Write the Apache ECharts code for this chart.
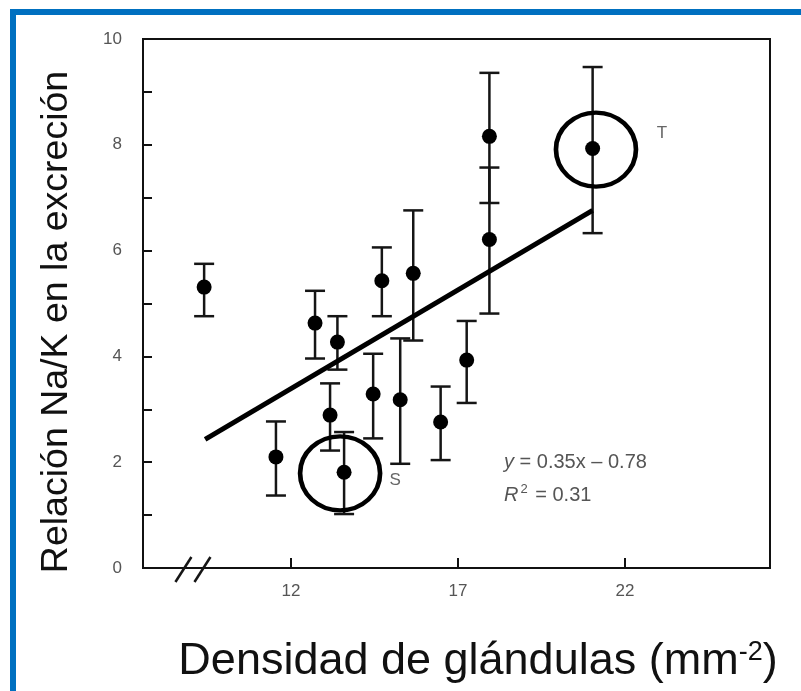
<!DOCTYPE html>
<html>
<head>
<meta charset="utf-8">
<script src="https://cdn.jsdelivr.net/npm/echarts@6/dist/echarts.min.js"></script>
<style>
html,body{margin:0;padding:0;background:#fff;}
#chart{width:801px;height:691px;}
</style>
</head>
<body>
<div id="chart"></div>
<script>
// ---- data ----
const xVals = [9.40, 11.55, 12.72, 13.17, 13.39, 13.59, 14.46, 14.72, 15.27, 15.66, 16.48, 17.26, 17.94, 17.94, 21.03];
const yVals = [5.31, 2.10, 4.63, 2.89, 4.27, 1.81, 3.29, 5.43, 3.18, 5.57, 2.76, 3.93, 8.16, 6.21, 7.93];
const yLow  = [4.76, 1.37, 3.96, 2.22, 3.75, 1.02, 2.45, 4.76, 1.97, 4.30, 2.04, 3.12, 6.90, 4.81, 6.33];
const yHigh = [5.75, 2.77, 5.24, 3.49, 4.76, 2.57, 4.05, 6.06, 4.34, 6.76, 3.43, 4.67, 9.36, 7.57, 9.47];
const fitX = [9.43, 21.03];
const fitY = [2.43, 6.76];
const circleNames = ['S', 'T'];
const circleX = [13.47, 21.13];
const circleY = [1.79, 7.91];
const xTicks = [12, 17, 22];
const yTickLabels = [0, 2, 4, 6, 8, 10];
const breakX = [8.78, 9.35];
const equationRest = ' = 0.35x \u2013 0.78';
const r2Text = '0.31';

const chart = echarts.init(document.getElementById('chart'), null, {renderer: 'canvas'});

const points = xVals.map((x, i) => [x, yVals[i]]);
const bars = xVals.map((x, i) => [x, yLow[i], yHigh[i]]);
const fitLine = fitX.map((x, i) => [x, fitY[i]]);
const labelOffsets = {S: [55, 7], T: [66, -16]};
const circles = circleNames.map((n, i) => ({
  name: n, value: [circleX[i], circleY[i]],
  label: {offset: labelOffsets[n]}
}));

const ink = '#111';

chart.setOption({
  animation: false,
  backgroundColor: '#fff',
  grid: {left: 143, right: 31, top: 39, bottom: 123, show: true, borderColor: ink, borderWidth: 2, backgroundColor: 'transparent'},
  xAxis: {
    type: 'value', min: 7.57, max: 26.34,
    axisLine: {show: true, onZero: false, lineStyle: {color: ink, width: 2}},
    axisTick: {show: true, inside: true, length: 10, customValues: xTicks, lineStyle: {color: ink, width: 2}},
    axisLabel: {show: true, customValues: xTicks, color: '#555', fontSize: 17, margin: 15, fontFamily: 'Liberation Sans'},
    splitLine: {show: false}
  },
  yAxis: {
    type: 'value', min: 0, max: 10, interval: 1,
    axisLine: {show: true, lineStyle: {color: ink, width: 2}},
    axisTick: {show: true, inside: true, length: 9, lineStyle: {color: ink, width: 2}},
    axisLabel: {color: '#555', fontSize: 17, margin: 21, fontFamily: 'Liberation Sans',
      formatter: v => (yTickLabels.indexOf(v) >= 0 ? String(v) : '')},
    splitLine: {show: false}
  },
  graphic: [
    {type: 'rect', shape: {x: 10, y: 9, width: 791, height: 6}, style: {fill: '#0070C0'}, z: 100},
    {type: 'rect', shape: {x: 10, y: 9, width: 6, height: 682}, style: {fill: '#0070C0'}, z: 100},
    {type: 'text', x: 57, y: 322, rotation: Math.PI / 2,
      style: {text: 'Relación Na/K en la excreción', font: '37.5px "Liberation Sans"', fill: '#111', align: 'center', verticalAlign: 'middle'}},
    {type: 'text', x: 478, y: 662,
      style: {text: '{t|Densidad de glándulas (mm}{s|-2}{t|)}', align: 'center', verticalAlign: 'middle',
        rich: {t: {font: '45px "Liberation Sans"', fill: '#111'}, s: {font: '27px "Liberation Sans"', fill: '#111', verticalAlign: 'top', padding: [0, 0, 15, 0]}}}},
    {type: 'text', x: 504, y: 462,
      style: {text: '{i|y}{n|' + equationRest + '}', verticalAlign: 'middle',
        rich: {i: {font: 'italic 20px "Liberation Sans"', fill: '#555'}, n: {font: '20px "Liberation Sans"', fill: '#555'}}}},
    {type: 'text', x: 504, y: 495,
      style: {text: '{i|R}{s|2}{n| = ' + r2Text + '}', verticalAlign: 'middle',
        rich: {i: {font: 'italic 20px "Liberation Sans"', fill: '#555'}, s: {font: '13px "Liberation Sans"', fill: '#555', padding: [0, 2, 11, 2]}, n: {font: '20px "Liberation Sans"', fill: '#555'}}}}
  ],
  series: [
    {
      type: 'custom', name: 'errors', data: bars, z: 2, clip: false,
      encode: {x: 0, y: [1, 2]},
      renderItem: function (params, api) {
        const x = api.value(0);
        const lo = api.coord([x, api.value(1)]);
        const hi = api.coord([x, api.value(2)]);
        const w = 10;
        const style = {stroke: '#151515', lineWidth: 2.5};
        return {type: 'group', children: [
          {type: 'line', shape: {x1: lo[0], y1: lo[1], x2: hi[0], y2: hi[1]}, style},
          {type: 'line', shape: {x1: lo[0] - w, y1: lo[1], x2: lo[0] + w, y2: lo[1]}, style},
          {type: 'line', shape: {x1: hi[0] - w, y1: hi[1], x2: hi[0] + w, y2: hi[1]}, style}
        ]};
      }
    },
    {
      type: 'line', name: 'fit', data: fitLine, showSymbol: false, symbol: 'none', z: 3,
      lineStyle: {color: '#000', width: 5}
    },
    {
      type: 'scatter', name: 'points', data: points, symbol: 'circle', symbolSize: 15, z: 4,
      itemStyle: {color: '#000', opacity: 1}
    },
    {
      type: 'scatter', name: 'circles', data: circles, symbol: 'circle', symbolSize: [80, 74], z: 5,
      itemStyle: {color: 'rgba(0,0,0,0)', borderColor: '#000', borderWidth: 4.5, opacity: 1},
      label: {show: true, formatter: '{b}', position: 'inside', color: '#666', fontSize: 17, fontFamily: 'Liberation Sans'}
    },
    {
      type: 'custom', name: 'break', data: breakX.map(x => [x, 0]), z: 6, clip: false,
      renderItem: function (params, api) {
        const p = api.coord([api.value(0), api.value(1)]);
        return {type: 'line', shape: {x1: p[0] - 8, y1: p[1] + 14, x2: p[0] + 8, y2: p[1] - 11},
          style: {stroke: '#151515', lineWidth: 2.5}};
      }
    }
  ]
});
</script>
</body>
</html>
